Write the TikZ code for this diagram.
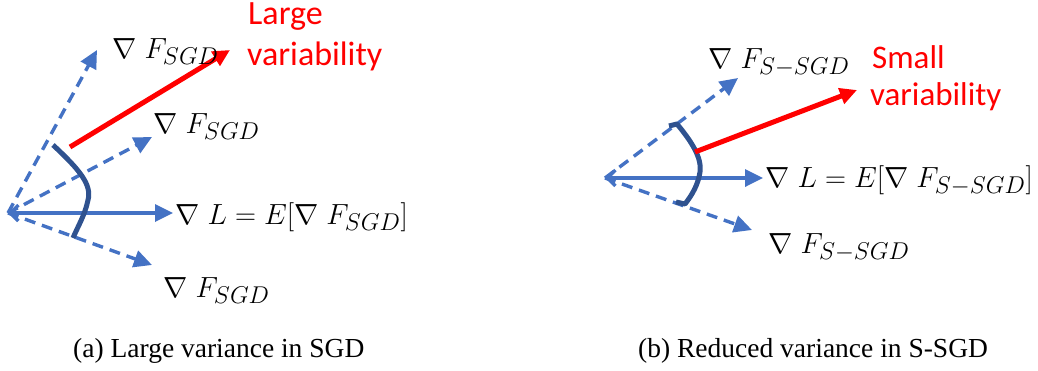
\documentclass[tikz,border=0pt]{standalone}
\usepackage{graphicx}
\usepackage{fontspec}
\newfontfamily\carl{Carlito}
\newfontfamily\capfont{Liberation Serif}
\usetikzlibrary{arrows.meta}
\definecolor{arrblue}{HTML}{4472C4}
\definecolor{curveblue}{HTML}{2F528F}
\definecolor{vred}{HTML}{FF0000}
\newcommand{\bigmath}[1]{\scalebox{1.17}{\fontsize{24.88}{30}\selectfont$#1$}}
\tikzset{
  barrow/.style={draw=arrblue, line width=3.4pt, -{Triangle[length=18pt,width=17pt]}},
  mainarrow/.style={barrow, {Straight Barb[length=8pt,width=16pt]}-{Triangle[length=18pt,width=17pt]}},
  dasharrow/.style={barrow, dash pattern=on 11pt off 7pt},
  redarrow/.style={draw=vred, line width=5pt, -{Triangle[length=17pt,width=16pt]}},
  bracket/.style={draw=curveblue, line width=5pt, line join=round},
  lab/.style={inner sep=0pt, anchor=base west},
  redtxtL/.style={inner sep=0pt, anchor=base west, text=vred, font=\carl\fontsize{34}{40}\selectfont},
  redtxtR/.style={inner sep=0pt, anchor=base west, text=vred, font=\carl\fontsize{33}{39}\selectfont},
  caption/.style={inner sep=0pt, anchor=base west, font=\capfont\fontsize{27.5}{32}\selectfont}
}
\begin{document}
\begin{tikzpicture}[x=1pt,y=-1pt]
\useasboundingbox (0,0) rectangle (1038,370);
% ---------- (a) ----------
\coordinate (oa) at (8,213);
\coordinate (ah) at (173,213);
\coordinate (au) at (97,50);
\coordinate (am) at (152,137);
\coordinate (ad) at (152,265);
\coordinate (ra0) at (70,147);
\coordinate (ra1) at (230,50);
\coordinate (ca0) at (53,145);
\coordinate (ca1) at (73,238);
\draw[dasharrow] (oa) -- (au);
\draw[dasharrow] (oa) -- (am);
\draw[dasharrow] (oa) -- (ad);
\draw[mainarrow] (oa) -- (ah);
\draw[bracket] (ca0) .. controls (80,170) and (92,185) .. (88,200) .. controls (85,215) and (78,226) .. (ca1);
\draw[redarrow] (ra0) -- (ra1);
\node[lab] (la1) at (112,58) {\bigmath{\nabla\;F_{SGD}}};
\node[lab] (la2) at (153,133) {\bigmath{\nabla\;F_{SGD}}};
\node[lab] (la3) at (175,224) {\bigmath{\nabla\;L=E[\nabla\;F_{SGD}]}};
\node[lab] (la4) at (163,297) {\bigmath{\nabla\;F_{SGD}}};
\node[redtxtL] (rla) at (248,24) {Large};
\node[redtxtL] (rlb) at (247,65) {variability};
\node[caption] (capa) at (73,357) {(a) Large variance in SGD};
% ---------- (b) ----------
\coordinate (ob) at (605,178);
\coordinate (bh) at (763,178);
\coordinate (bu) at (738,78);
\coordinate (bd) at (752,230);
\coordinate (rb0) at (695,152);
\coordinate (rb1) at (857,90);
\coordinate (cb0) at (677,124);
\coordinate (cb1) at (685,204);
\draw[dasharrow] (ob) -- (bu);
\draw[dasharrow] (ob) -- (bd);
\draw[mainarrow] (ob) -- (bh);
\draw[bracket] (669,126) -- (cb0) .. controls (692,142) and (702,158) .. (700,172) .. controls (698,185) and (692,195) .. (cb1) -- (676,202);
\draw[redarrow] (rb0) -- (rb1);
\node[lab] (lb1) at (708,68) {\bigmath{\nabla\;F_{S-SGD}}};
\node[lab] (lb3) at (765,187) {\bigmath{\nabla\;L=E[\nabla\;F_{S-SGD}]}};
\node[lab] (lb4) at (768,253) {\bigmath{\nabla\;F_{S-SGD}}};
\node[redtxtR] (rsa) at (872,68) {Small};
\node[redtxtR] (rsb) at (870,105) {variability};
\node[caption] (capb) at (638,357) {(b) Reduced variance in S-SGD};
\end{tikzpicture}
\end{document}
